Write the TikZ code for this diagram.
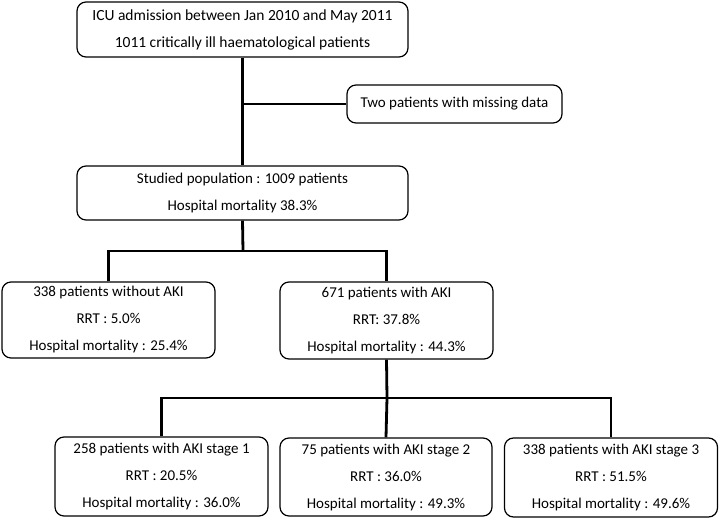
\documentclass[tikz,border=0pt]{standalone}
\usepackage{fontspec}
\setmainfont{Carlito}
\usetikzlibrary{positioning}
\begin{document}
\begin{tikzpicture}[x=1pt, y=-1pt,
    every node/.style={draw, rounded corners=9pt, line width=1.2pt, align=center,
        inner sep=0pt, font=\fontsize{15}{27}\selectfont},
    link/.style={line width=2.8pt}]
    \useasboundingbox (0,0) rectangle (720,518);

    \node[minimum width=331pt, minimum height=55pt, font=\fontsize{15.5}{27}\selectfont] (admit) at (242.5,29.5)
        {ICU admission between Jan 2010 and May 2011\\1011 critically ill haematological patients};
    \node[minimum width=215pt, minimum height=38pt] (missing) at (454.5,104)
        {Two patients with missing data};
    \node[minimum width=331pt, minimum height=54pt] (studied) at (242.5,193)
        {Studied population : 1009 patients\\Hospital mortality 38.3\%};
    \node[minimum width=213pt, minimum height=76pt] (noaki) at (108.5,320)
        {338 patients without AKI\\RRT : 5.0\%\\Hospital mortality : 25.4\%};
    \node[minimum width=213pt, minimum height=77pt] (aki) at (386.5,320.5)
        {671 patients with AKI\\RRT: 37.8\%\\Hospital mortality : 44.3\%};
    \node[minimum width=213pt, minimum height=79pt] (stage1) at (161.5,476.5)
        {258 patients with AKI stage 1\\RRT : 20.5\%\\Hospital mortality : 36.0\%};
    \node[minimum width=212pt, minimum height=78pt] (stage2) at (386,477)
        {75 patients with AKI stage 2\\RRT : 36.0\%\\Hospital mortality : 49.3\%};
    \node[minimum width=213pt, minimum height=79pt] (stage3) at (611,477.5)
        {338 patients with AKI stage 3\\RRT : 51.5\%\\Hospital mortality : 49.6\%};

    % branches
    \coordinate (fork1) at (243,251);
    \coordinate (fork2) at (387,398);
    \draw[link] (admit) -- (studied);
    \draw[link] (missing.west) -- (missing.west -| admit.south);
    \draw[link] (studied.south) -- (fork1);
    \draw[link] (noaki.north) |- (fork1) -| (aki.north);
    \draw[link] (aki.south) -- (fork2);
    \draw[link] (stage1.north) |- (fork2) -| (stage3.north);
    \draw[link] (fork2) -- (stage2.north);
\end{tikzpicture}
\end{document}
